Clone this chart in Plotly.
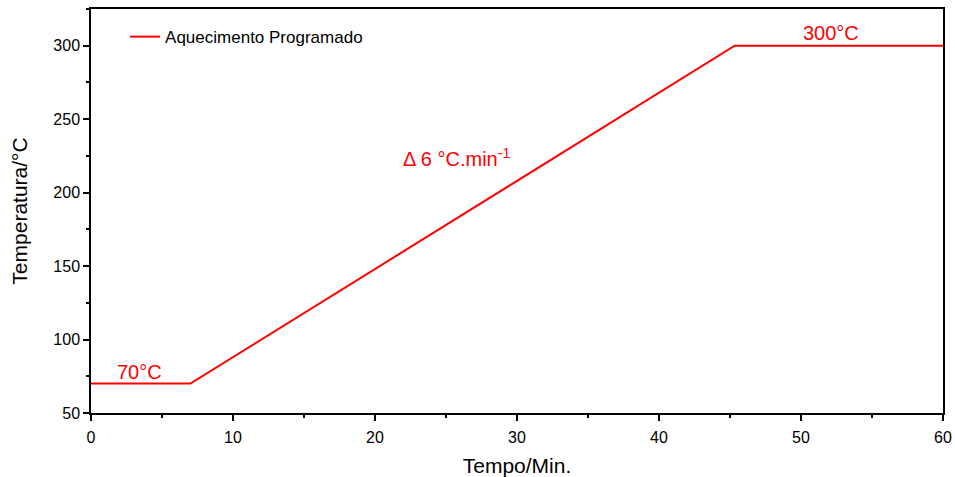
import plotly.graph_objects as go

time_min = [0, 7, 45.33, 60]
temperature = [70, 70, 300, 300]
series_name = "Aquecimento Programado"

fig = go.Figure()
fig.add_trace(go.Scatter(x=time_min, y=temperature, mode="lines", name=series_name,
                         line=dict(color="#ff0000", width=2)))

font_family = "Liberation Sans, Arial, sans-serif"
red = "#ff0000"
fig.add_annotation(x=3.4, y=78, text="70°C", showarrow=False, font=dict(size=20, color=red, family=font_family))
fig.add_annotation(x=52.1, y=309, text="300°C", showarrow=False, font=dict(size=20, color=red, family=font_family))
fig.add_annotation(x=25.75, y=224, text="Δ 6 °C.min<sup>-1</sup>", showarrow=False,
                   font=dict(size=20, color=red, family=font_family))

axis_common = dict(showline=True, linecolor="black", linewidth=1.5, mirror=True, showgrid=False,
                   zeroline=False, ticks="outside", ticklen=6, tickwidth=1.5, tickcolor="black",
                   automargin=False,
                   tickfont=dict(size=16, color="black", family=font_family))

fig.update_xaxes(range=[0, 60], dtick=10, tick0=0, ticklabelstandoff=3,
                 minor=dict(ticks="outside", ticklen=3, dtick=5, tick0=0, tickcolor="black", tickwidth=1.5),
                 title=dict(text="Tempo/Min.", font=dict(size=21, color="black", family=font_family), standoff=14),
                 **axis_common)
fig.update_yaxes(range=[50, 325], dtick=50, tick0=50,
                 minor=dict(ticks="outside", ticklen=3, dtick=25, tick0=50, tickcolor="black", tickwidth=1.5),
                 title=dict(text="Temperatura/°C", font=dict(size=21, color="black", family=font_family), standoff=20),
                 **axis_common)

fig.update_layout(width=955, height=477, margin=dict(l=91, r=12, t=9, b=64),
                  plot_bgcolor="white", paper_bgcolor="white",
                  showlegend=True,
                  legend=dict(x=0.04, y=0.975, xanchor="left", yanchor="top", bgcolor="rgba(0,0,0,0)",
                              font=dict(size=17, color="black", family=font_family)),
                  font=dict(family=font_family))

fig.write_html("out.html")
